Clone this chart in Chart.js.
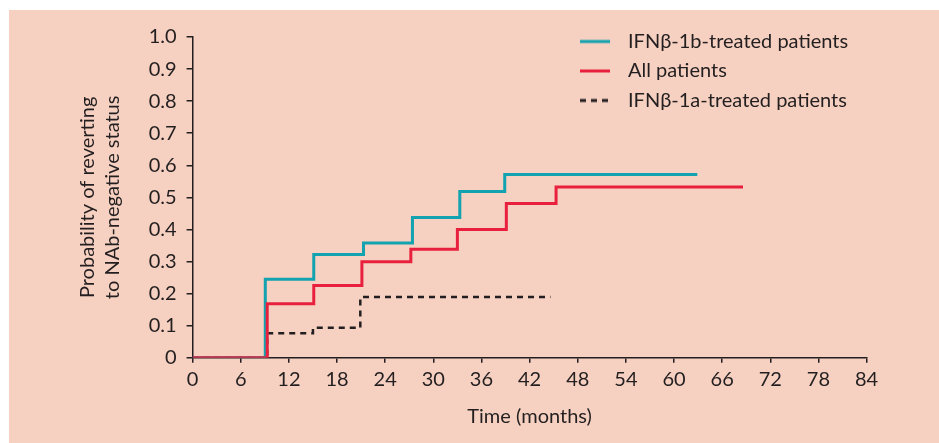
<!DOCTYPE html>
<html>
<head>
<meta charset="utf-8">
<script src="https://cdn.jsdelivr.net/npm/chart.js@4/dist/chart.umd.min.js"></script>
<style>
  html, body { margin: 0; padding: 0; background: #ffffff; }
  #wrap { position: absolute; left: 9px; top: 10px; width: 930px; height: 433px; background: #F6D0C0; }
  canvas { display: block; }
</style>
</head>
<body>
<div id="wrap"><canvas id="c" width="930" height="433"></canvas></div>
<script>
// ---- data ----
const seriesNames = ['IFNβ-1b-treated patients', 'All patients', 'IFNβ-1a-treated patients'];

const ifnb1bTimes  = [0, 9.06, 15.1, 21.3, 27.4, 33.3, 38.9, 62.9];
const ifnb1bValues = [0, 0.245, 0.322, 0.358, 0.437, 0.518, 0.571, 0.571];

const allTimes  = [0, 9.3, 15.1, 21.1, 27.2, 33.0, 39.1, 45.3, 68.6];
const allValues = [0, 0.168, 0.225, 0.299, 0.338, 0.400, 0.481, 0.532, 0.532];

const ifnb1aTimes  = [0, 9.3, 15.0, 20.9, 44.6];
const ifnb1aValues = [0, 0.076, 0.093, 0.189, 0.189];

const xTickValues = [0, 6, 12, 18, 24, 30, 36, 42, 48, 54, 60, 66, 72, 78, 84];
const yTickLabels = ['0', '0.1', '0.2', '0.3', '0.4', '0.5', '0.6', '0.7', '0.8', '0.9', '1.0'];

const xTitle = 'Time (months)';
const yTitle = ['Probability of reverting', 'to NAb-negative status'];

// ---- styling ----
const TEAL = '#12A2B0';
const RED = '#E8203E';
const BLACK = '#231F20';
const FONT = 'Lato, "Open Sans", sans-serif';

function toPoints(xs, ys) { return xs.map((x, i) => ({ x: x, y: ys[i] })); }

function legendIcon(color, dash) {
  const c = document.createElement('canvas');
  c.width = 38; c.height = 6;
  const g = c.getContext('2d');
  g.strokeStyle = color; g.lineWidth = 3; g.setLineDash(dash);
  g.beginPath(); g.moveTo(0, 3); g.lineTo(30, 3); g.stroke();
  return c;
}
const icons = [legendIcon(TEAL, []), legendIcon(RED, []), legendIcon(BLACK, [6, 5])];

const placeLegend = {
  id: 'placeLegend',
  afterLayout(chart) {
    if (chart.legend) { chart.legend.left = 561.5; chart.legend.top = 12; }
  }
};

new Chart(document.getElementById('c'), {
  type: 'line',
  data: {
    datasets: [
      { label: seriesNames[0], data: toPoints(ifnb1bTimes, ifnb1bValues), borderColor: TEAL, borderWidth: 3, stepped: 'before', pointRadius: 0, order: 1, fill: false },
      { label: seriesNames[1], data: toPoints(allTimes, allValues), borderColor: RED, borderWidth: 3, stepped: 'before', pointRadius: 0, order: 0, fill: false },
      { label: seriesNames[2], data: toPoints(ifnb1aTimes, ifnb1aValues), borderColor: BLACK, borderWidth: 2.5, borderDash: [6, 5], stepped: 'before', pointRadius: 0, order: 2, fill: false }
    ]
  },
  options: {
    responsive: false,
    animation: false,
    devicePixelRatio: 1,
    layout: { padding: { left: 60, right: 72.4, top: 27, bottom: 10 } },
    plugins: {
      tooltip: { enabled: false },
      legend: {
        position: 'chartArea',
        align: 'start',
        labels: {
          usePointStyle: true,
          pointStyleWidth: 38,
          padding: 9.5,
          color: BLACK,
          font: { family: FONT, size: 20 },
          generateLabels(chart) {
            const items = Chart.defaults.plugins.legend.labels.generateLabels(chart);
            items.forEach(it => { it.pointStyle = icons[it.datasetIndex]; });
            return items.sort((a, b) => a.datasetIndex - b.datasetIndex);
          }
        }
      }
    },
    scales: {
      x: {
        type: 'linear', min: 0, max: 84,
        afterBuildTicks(scale) { scale.ticks = xTickValues.map(v => ({ value: v })); },
        afterFit(scale) { scale.height = 75.3; },
        ticks: { color: BLACK, font: { family: FONT, size: 20 }, padding: 5, maxRotation: 0, autoSkip: false, callback: v => String(v) },
        grid: { display: true, drawOnChartArea: false, drawTicks: true, tickLength: 5, color: BLACK, lineWidth: 1.5 },
        border: { display: true, color: BLACK, width: 1.5 },
        title: { display: true, text: xTitle, color: BLACK, font: { family: FONT, size: 20 }, padding: { top: 4, bottom: 4.5 } }
      },
      y: {
        type: 'linear', min: 0, max: 1,
        afterBuildTicks(scale) { scale.ticks = yTickLabels.map((t, i) => ({ value: i / 10 })); },
        afterFit(scale) { scale.width = 123.6; },
        ticks: { color: BLACK, font: { family: FONT, size: 20 }, padding: 10, autoSkip: false, callback: (v, i) => yTickLabels[i] },
        grid: { display: true, drawOnChartArea: false, drawTicks: true, tickLength: 6, color: BLACK, lineWidth: 1.5 },
        border: { display: true, color: BLACK, width: 1.5 },
        title: { display: true, text: yTitle, color: BLACK, font: { family: FONT, size: 20, lineHeight: 1.25 }, padding: { top: 6.5, bottom: 4 } }
      }
    }
  },
  plugins: [placeLegend]
});
</script>
</body>
</html>
